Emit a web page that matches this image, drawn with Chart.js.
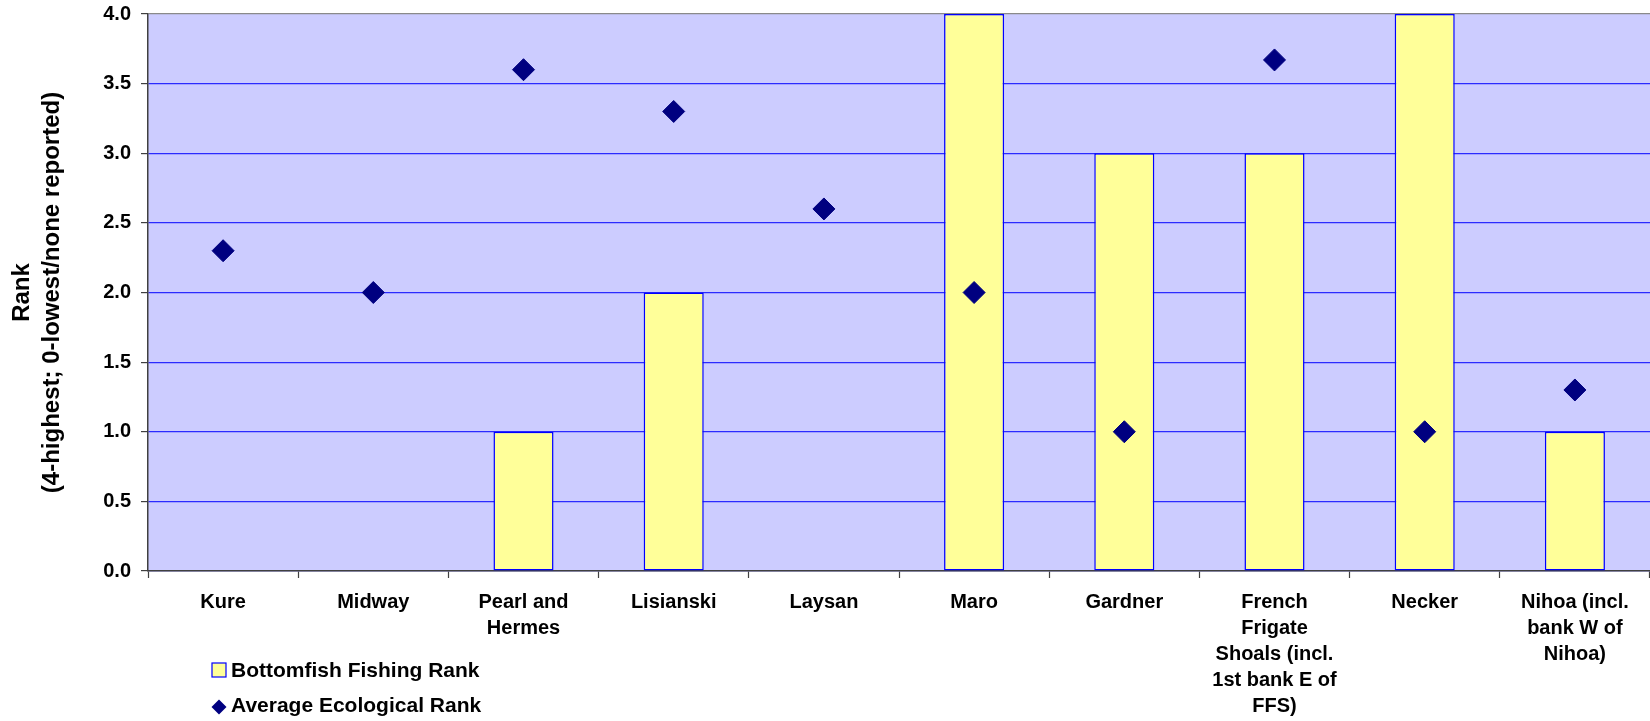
<!DOCTYPE html>
<html>
<head>
<meta charset="utf-8">
<script src="https://cdn.jsdelivr.net/npm/chart.js@4/dist/chart.umd.min.js"></script>
<style>
  html, body { margin: 0; padding: 0; background: #ffffff; overflow: hidden; }
  #wrap { width: 1650px; height: 721px; position: relative; }
  #c { display: block; }
</style>
</head>
<body>
<div id="wrap"><canvas id="c" width="1650" height="721"></canvas></div>
<script>
const categories = [
  ['Kure'],
  ['Midway'],
  ['Pearl and', 'Hermes'],
  ['Lisianski'],
  ['Laysan'],
  ['Maro'],
  ['Gardner'],
  ['French', 'Frigate', 'Shoals (incl.', '1st bank E of', 'FFS)'],
  ['Necker'],
  ['Nihoa (incl.', 'bank W of', 'Nihoa)']
];
const bottomfishRank = [0, 0, 1, 2, 0, 4, 3, 3, 4, 1];
const ecologicalRank = [2.3, 2.0, 3.6, 3.3, 2.6, 2.0, 1.0, 3.67, 1.0, 1.3];
const seriesNames = ['Bottomfish Fishing Rank', 'Average Ecological Rank'];
const yTitle = ['Rank', '(4-highest; 0-lowest/none reported)'];
const yTicks = { min: 0, max: 4, step: 0.5 };

const FONT = '"Liberation Sans", Arial, sans-serif';

const plotBg = {
  id: 'plotBg',
  beforeDraw(chart) {
    const { ctx, chartArea: a } = chart;
    ctx.save();
    ctx.fillStyle = '#CCCCFF';
    ctx.fillRect(a.left, a.top, a.right - a.left, a.bottom - a.top);
    ctx.restore();
  }
};

const customLegend = {
  id: 'customLegend',
  afterDraw(chart) {
    const { ctx } = chart;
    const ds = chart.data.datasets;
    ctx.save();
    ctx.font = 'bold 21px ' + FONT;
    ctx.textBaseline = 'middle';
    // row 1: bar swatch
    ctx.fillStyle = ds[0].backgroundColor;
    ctx.fillRect(212, 663, 14, 14);
    ctx.strokeStyle = ds[0].borderColor;
    ctx.lineWidth = 1.2;
    ctx.strokeRect(212, 663, 14, 14);
    ctx.fillStyle = '#000';
    ctx.fillText(ds[0].label, 231, 671);
    // row 2: diamond
    ctx.fillStyle = ds[1].backgroundColor;
    ctx.beginPath();
    const cx = 219, cy = 707, r = 7.5;
    ctx.moveTo(cx, cy - r);
    ctx.lineTo(cx + r, cy);
    ctx.lineTo(cx, cy + r);
    ctx.lineTo(cx - r, cy);
    ctx.closePath();
    ctx.fill();
    ctx.fillStyle = '#000';
    ctx.fillText(ds[1].label, 231, 706);
    ctx.restore();
  }
};

new Chart(document.getElementById('c'), {
  type: 'bar',
  data: {
    labels: categories,
    datasets: [
      {
        type: 'bar',
        label: seriesNames[0],
        data: bottomfishRank,
        backgroundColor: '#FFFF99',
        borderColor: '#0000FF',
        borderWidth: 1.5,
        borderSkipped: false,
        barPercentage: 0.4,
        categoryPercentage: 1.0,
        order: 2
      },
      {
        type: 'line',
        label: seriesNames[1],
        data: ecologicalRank,
        showLine: false,
        pointStyle: 'rectRot',
        pointRadius: 11,
        pointHoverRadius: 11,
        backgroundColor: '#000080',
        borderColor: '#000080',
        borderWidth: 1,
        order: 1
      }
    ]
  },
  options: {
    responsive: false,
    animation: false,
    devicePixelRatio: 1,
    layout: { autoPadding: false, padding: { top: 14, right: 0, bottom: 0, left: 0 } },
    plugins: {
      legend: { display: false },
      tooltip: { enabled: false },
      title: { display: false }
    },
    scales: {
      x: {
        offset: true,
        grid: {
          display: true,
          offset: true,
          drawOnChartArea: false,
          drawTicks: true,
          tickLength: 7,
          tickColor: '#404040',
          tickWidth: 1.2
        },
        border: { display: true, color: '#404040', width: 1.5 },
        ticks: {
          autoSkip: false,
          maxRotation: 0,
          minRotation: 0,
          padding: 11,
          color: '#000',
          font: { family: FONT, size: 20, weight: 'bold', lineHeight: 1.3 }
        },
        afterFit(scale) {
          scale.height = 150;
          scale.paddingLeft = 0;
          scale.paddingRight = 0;
        }
      },
      y: {
        min: yTicks.min,
        max: yTicks.max,
        grid: {
          color: (c) => (c.tick && c.tick.value === yTicks.max) ? '#8a8a8a' : '#2a2aff',
          lineWidth: 1.2,
          drawTicks: true,
          tickLength: 7,
          tickColor: '#404040'
        },
        border: { display: true, color: '#404040', width: 1.5 },
        ticks: {
          stepSize: yTicks.step,
          padding: 10,
          color: '#000',
          font: { family: FONT, size: 20, weight: 'bold' },
          callback: (v) => Number(v).toFixed(1)
        },
        title: {
          display: true,
          text: yTitle,
          color: '#000',
          padding: { top: 7, bottom: 0 },
          font: { family: FONT, size: 24, weight: 'bold', lineHeight: 1.25 }
        },
        afterFit(scale) {
          scale.width = 148;
          scale.paddingTop = 0;
          scale.paddingBottom = 0;
        }
      }
    }
  },
  plugins: [plotBg, customLegend]
});
</script>
</body>
</html>
